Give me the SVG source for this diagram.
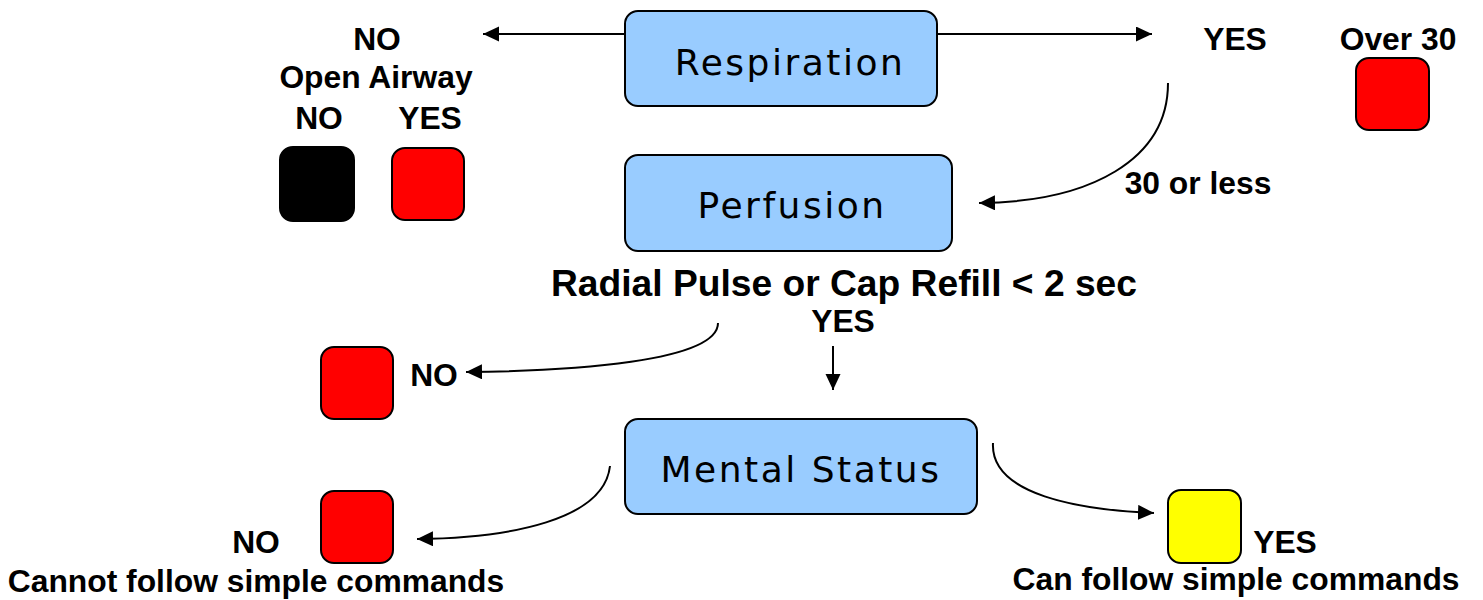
<svg xmlns="http://www.w3.org/2000/svg" width="1483" height="600" viewBox="0 0 1483 600">
<style>
.box{fill:#99ccff;stroke:#000;stroke-width:2}
.sq{stroke:#000;stroke-width:2}
.bt{font-family:"DejaVu Sans",Verdana,sans-serif;font-size:36px;fill:#000;letter-spacing:2.5px}
.lb{font-family:"Liberation Sans",Arial,sans-serif;font-weight:bold;font-size:31.8px;fill:#000}
.big{font-size:37.2px}
.c{stroke:#000;stroke-width:2;fill:none;marker-end:url(#ah)}
</style>
<defs>
<marker id="ah" markerUnits="userSpaceOnUse" markerWidth="17" markerHeight="16" refX="16" refY="7.5" orient="auto">
<path d="M0,0 L16,7.5 L0,15 z" fill="#000"/>
</marker>
</defs>
<g id="connectors">
<line class="c" x1="625" y1="34" x2="483" y2="34"/>
<line class="c" x1="937" y1="34" x2="1152" y2="34"/>
<path class="c" d="M1168,83 C1168,160 1090,202 979,203"/>
<path class="c" d="M718,323 C718,362 570,371 466,372"/>
<line class="c" x1="833" y1="346" x2="833" y2="390"/>
<path class="c" d="M610,466 C604,520 510,538 417,539"/>
<path class="c" d="M993,443 C990,495 1080,510 1154,513"/>
</g>
<g id="respiration">
<rect class="box" x="625" y="11" width="312" height="95" rx="13"/>
<text class="bt" x="790" y="75" text-anchor="middle">Respiration</text>
</g>
<g id="perfusion">
<rect class="box" x="625" y="155" width="327" height="96" rx="13"/>
<text class="bt" x="792" y="218" text-anchor="middle">Perfusion</text>
</g>
<g id="mental-status">
<rect class="box" x="625" y="419" width="352" height="95" rx="13"/>
<text class="bt" x="801" y="482" text-anchor="middle">Mental Status</text>
</g>
<g id="airway-no">
<rect class="sq" x="280" y="147" width="74" height="74" rx="13" fill="#000"/>
</g>
<g id="airway-yes">
<rect class="sq" x="392" y="148" width="72" height="72" rx="13" fill="#ff0000"/>
</g>
<g id="over30">
<rect class="sq" x="1356" y="58" width="73" height="72" rx="13" fill="#ff0000"/>
</g>
<g id="perfusion-no">
<rect class="sq" x="321" y="347" width="72" height="72" rx="13" fill="#ff0000"/>
</g>
<g id="mental-no">
<rect class="sq" x="321" y="491" width="72" height="72" rx="13" fill="#ff0000"/>
</g>
<g id="mental-yes">
<rect class="sq" x="1168" y="490" width="73" height="73" rx="13" fill="#ffff00"/>
</g>
<g id="labels">
<text class="lb" x="377" y="50" text-anchor="middle">NO</text>
<text class="lb" x="376" y="88" text-anchor="middle">Open Airway</text>
<text class="lb" x="319" y="129" text-anchor="middle">NO</text>
<text class="lb" x="430" y="129" text-anchor="middle">YES</text>
<text class="lb" x="1235" y="50" text-anchor="middle">YES</text>
<text class="lb" x="1398" y="50" text-anchor="middle">Over 30</text>
<text class="lb" x="1198" y="194" text-anchor="middle">30 or less</text>
<text class="lb big" x="844" y="296" text-anchor="middle">Radial Pulse or Cap Refill &lt; 2 sec</text>
<text class="lb" x="843" y="332" text-anchor="middle">YES</text>
<text class="lb" x="434" y="386" text-anchor="middle">NO</text>
<text class="lb" x="256" y="553" text-anchor="middle">NO</text>
<text class="lb" x="256" y="592" text-anchor="middle">Cannot follow simple commands</text>
<text class="lb" x="1285" y="553" text-anchor="middle">YES</text>
<text class="lb" x="1236" y="590" text-anchor="middle">Can follow simple commands</text>
</g>
</svg>
